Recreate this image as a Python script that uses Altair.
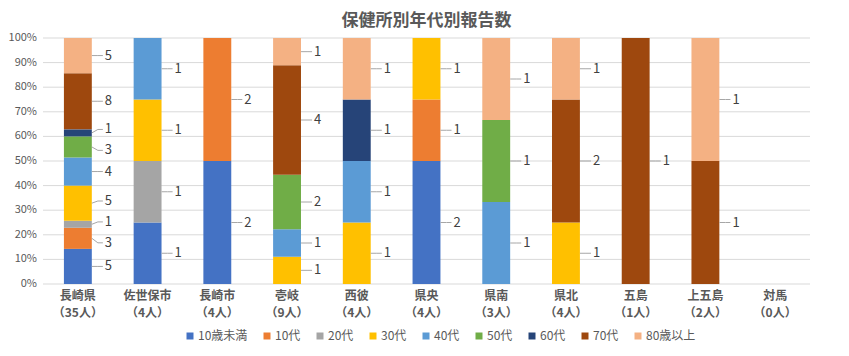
import altair as alt
import pandas as pd

# ---- data ----
categories = ["長崎県", "佐世保市", "長崎市", "壱岐", "西彼", "県央", "県南", "県北", "五島", "上五島", "対馬"]
people = ["（35人）", "（4人）", "（4人）", "（9人）", "（4人）", "（4人）", "（3人）", "（4人）", "（1人）", "（2人）", "（0人）"]
ages = ["10歳未満", "10代", "20代", "30代", "40代", "50代", "60代", "70代", "80歳以上"]
colors = ["#4472C4", "#ED7D31", "#A5A5A5", "#FFC000", "#5B9BD5", "#70AD47", "#264478", "#9E480E", "#F4B183"]
y_ticks = [0, 0.1, 0.2, 0.3, 0.4, 0.5, 0.6, 0.7, 0.8, 0.9, 1.0]

c_under10 = [5, 1, 2, 0, 0, 2, 0, 0, 0, 0, 0]
c_10s     = [3, 0, 2, 0, 0, 1, 0, 0, 0, 0, 0]
c_20s     = [1, 1, 0, 0, 0, 0, 0, 0, 0, 0, 0]
c_30s     = [5, 1, 0, 1, 1, 1, 0, 1, 0, 0, 0]
c_40s     = [4, 1, 0, 1, 1, 0, 1, 0, 0, 0, 0]
c_50s     = [3, 0, 0, 2, 0, 0, 1, 0, 0, 0, 0]
c_60s     = [1, 0, 0, 0, 1, 0, 0, 0, 0, 0, 0]
c_70s     = [8, 0, 0, 4, 0, 0, 0, 2, 1, 1, 0]
c_80plus  = [5, 0, 0, 1, 1, 0, 1, 1, 0, 1, 0]

series = [c_under10, c_10s, c_20s, c_30s, c_40s, c_50s, c_60s, c_70s, c_80plus]

cat_labels = [f"{c}\n{p}" for c, p in zip(categories, people)]

rows = []
for ci in range(len(categories)):
    total = sum(s[ci] for s in series)
    cum = 0
    items = []
    for ai, (age, vals) in enumerate(zip(ages, series)):
        v = vals[ci]
        if v > 0:
            y0 = cum / total
            cum += v
            y1 = cum / total
            items.append({"cat": cat_labels[ci], "age": age, "order": ai, "count": v,
                          "y0": y0, "y1": y1, "mid": (y0 + y1) / 2})
    # spread data labels that would collide (like the spreadsheet's label placement)
    lab = [it["mid"] for it in items]
    gap = 0.085
    for _ in range(200):
        moved = False
        for k in range(len(lab) - 1):
            d = lab[k + 1] - lab[k]
            if d < gap - 1e-6:
                sh = (gap - d) / 2
                lab[k] -= sh
                lab[k + 1] += sh
                moved = True
        if not moved:
            break
    for it, ly in zip(items, lab):
        it["laby"] = ly
    rows.extend(items)
df = pd.DataFrame(rows)
ticks_df = pd.DataFrame({"t": y_ticks})

FONT = "Noto Sans CJK JP"

yscale = alt.Scale(domain=[0, 1], nice=False)
yaxis = alt.Axis(title=None, labels=False, grid=False, ticks=False, domain=False)
xscale = alt.Scale(domain=cat_labels, paddingInner=0.6, paddingOuter=0.3)
xaxis = alt.Axis(
    title=None, labelAngle=0, labelExpr="split(datum.label, '\\n')",
    labelFontWeight="bold", labelFontSize=12, labelColor="#595959",
    labelLineHeight=17, labelPadding=6, labelBaseline="top",
    ticks=False, domain=False, grid=False,
)

# horizontal gridlines and percentage labels at each 10%
grid = alt.Chart(ticks_df).mark_rule(color="#D9D9D9", strokeWidth=1).encode(
    y=alt.Y("t:Q", scale=yscale, axis=yaxis),
)
ylabels = alt.Chart(ticks_df).mark_text(
    align="right", baseline="middle", dx=-6, fontSize=11, color="#595959", font=FONT
).encode(
    x=alt.value(0),
    y=alt.Y("t:Q", scale=yscale, axis=yaxis),
    text=alt.Text("t:Q", format=".0%"),
)

base = alt.Chart(df)
xenc = alt.X("cat:N", sort=cat_labels, scale=xscale, axis=xaxis)

bars = base.mark_bar().encode(
    x=xenc,
    y=alt.Y("y0:Q", scale=yscale, axis=yaxis),
    y2="y1:Q",
    color=alt.Color(
        "age:N",
        sort=ages,
        scale=alt.Scale(domain=ages, range=colors),
        legend=alt.Legend(
            title=None, orient="none", direction="horizontal", columns=9,
            legendX=141, legendY=292, symbolType="square", symbolSize=49,
            symbolStrokeWidth=0, labelFontSize=12, labelColor="#595959",
            labelOffset=2, columnPadding=13, padding=0,
        ),
    ),
)

leader_diag = base.mark_rule(color="#A6A6A6", strokeWidth=1, xOffset=14, x2Offset=20).encode(
    x=xenc,
    x2="cat:N",
    y=alt.Y("mid:Q", scale=yscale, axis=yaxis),
    y2="laby:Q",
)

leader_h = base.mark_rule(color="#A6A6A6", strokeWidth=1, xOffset=20, x2Offset=25).encode(
    x=xenc,
    x2="cat:N",
    y=alt.Y("laby:Q", scale=yscale, axis=yaxis),
)

labels = base.mark_text(align="left", baseline="middle", dx=27, fontSize=13, color="#404040", font=FONT).encode(
    x=xenc,
    y=alt.Y("laby:Q", scale=yscale, axis=yaxis),
    text="count:Q",
)

chart = alt.layer(grid, ylabels, bars, leader_diag, leader_h, labels).properties(
    width=767,
    height=246,
    title=alt.TitleParams("保健所別年代別報告数", fontSize=17, fontWeight="bold", color="#595959", offset=2, font=FONT),
    padding={"left": 35, "top": 30, "right": 31, "bottom": 64},
    autosize=alt.AutoSizeParams(type="none"),
).configure(
    font=FONT,
).configure_view(
    stroke=None
).configure_axis(
    labelFont=FONT
).configure_legend(
    labelFont=FONT
)

chart.save("out.html", embed_options={"renderer": "svg", "actions": False})
